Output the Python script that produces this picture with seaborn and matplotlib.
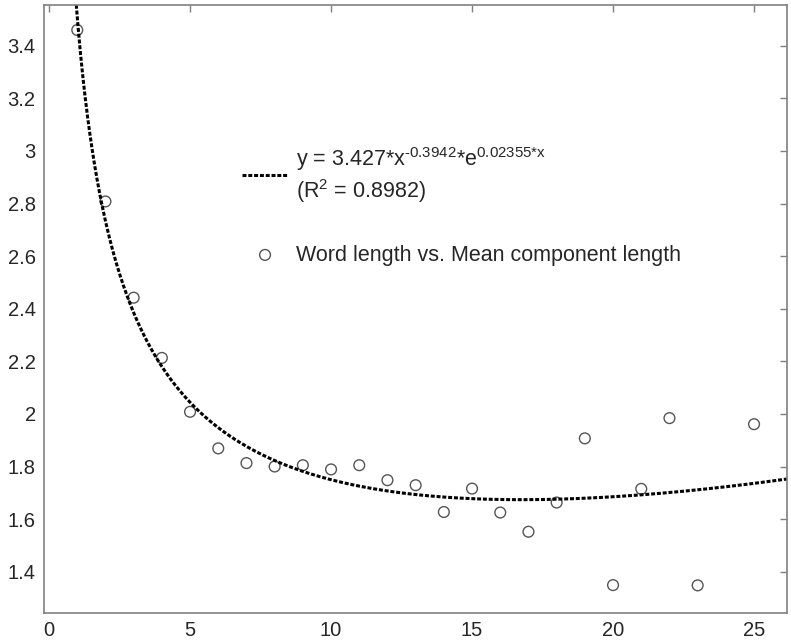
import numpy as np
import pandas as pd
import matplotlib
matplotlib.use('Agg')
import matplotlib.pyplot as plt
import seaborn as sns

# word length vs mean component length
word_length = [1, 2, 3, 4, 5, 6, 7, 8, 9, 10, 11, 12, 13, 14, 15, 16, 17, 18, 19, 20, 21, 22, 23, 25]
mean_comp_length = [3.46, 2.808, 2.442, 2.213, 2.008, 1.869, 1.813, 1.800, 1.805, 1.789, 1.805, 1.748,
                    1.729, 1.627, 1.716, 1.625, 1.552, 1.663, 1.907, 1.349, 1.715, 1.984, 1.348, 1.961]

# fitted model shown in the legend: y = a * x^b * e^(c*x)
fit_a = 3.427
fit_b = -0.3942
fit_c = 0.02355
fit_r2 = 0.8982

sns.set_style('white')
plt.rcParams['font.family'] = ['Liberation Sans', 'DejaVu Sans']
plt.rcParams['mathtext.fontset'] = 'custom'
plt.rcParams['mathtext.rm'] = 'Liberation Sans'
plt.rcParams['mathtext.it'] = 'Liberation Sans'
plt.rcParams['mathtext.default'] = 'regular'

fig = plt.figure(figsize=(7.91, 6.41), dpi=100)
ax = fig.add_axes([0.0556, 0.0437, 0.9394, 0.9485])

xmin, xmax = -0.18, 26.17
xs = np.linspace(0.9, xmax, 600)
fit = pd.DataFrame({'x': xs, 'y': fit_a * xs ** fit_b * np.exp(fit_c * xs)})
pts = pd.DataFrame({'x': word_length, 'y': mean_comp_length})

fit_label = (r'y = 3.427*x$^{\text{-0.3942}}$*e$^{\text{0.02355*x}}$' + '\n'
             r'(R$^{2}$ = 0.8982)')
sns.lineplot(data=fit, x='x', y='y', ax=ax, color='black', lw=2.2,
             linestyle=(0, (1.3, 0.6)), label=fit_label, sort=False)
sns.scatterplot(data=pts, x='x', y='y', ax=ax, marker='o', s=60,
                facecolor='none', edgecolor='#555555', linewidth=1.0,
                label='Word length vs. Mean component length')

ax.set_xlim(xmin, xmax)
ax.set_ylim(1.243, 3.555)
ax.set_xticks([0, 5, 10, 15, 20, 25])
ax.set_yticks([1.4, 1.6, 1.8, 2.0, 2.2, 2.4, 2.6, 2.8, 3.0, 3.2, 3.4])
ax.set_yticklabels(['1.4', '1.6', '1.8', '2', '2.2', '2.4', '2.6', '2.8', '3', '3.2', '3.4'])
ax.set_xlabel('')
ax.set_ylabel('')
ax.tick_params(direction='in', top=True, right=True, length=5, width=1,
               color='#808080', labelsize=14.5, pad=6)
for s in ax.spines.values():
    s.set_color('#808080')
    s.set_linewidth(1.2)

ax.legend(loc='upper left', bbox_to_anchor=(0.241, 0.802), frameon=False,
          fontsize=15.5, handlelength=2.1, handletextpad=0.4, labelspacing=1.85)

fig.savefig('out.png', dpi=100)
